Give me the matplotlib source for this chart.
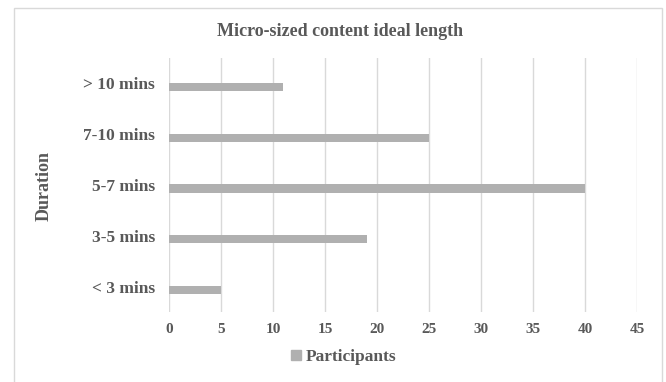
import matplotlib.pyplot as plt
from matplotlib.patches import Rectangle
from matplotlib.lines import Line2D
import numpy as np

categories = ['< 3 mins', '3-5 mins', '5-7 mins', '7-10 mins', '> 10 mins']
participants = [5, 19, 40, 25, 11]
xticks = [0, 5, 10, 15, 20, 25, 30, 35, 40, 45]

txt = '#595959'
bar_col = '#b0b0b0'
plt.rcParams['font.family'] = ['Liberation Serif', 'DejaVu Serif']
plt.rcParams['font.weight'] = 'bold'

fig = plt.figure(figsize=(6.66, 3.82), dpi=100)
ax = fig.add_axes([169/666, 1 - 312/382, (637 - 169)/666, (312 - 58)/382])

pos = np.arange(len(categories))
ax.barh(pos - 0.07, participants, height=0.16, color=bar_col)

ax.set_xlim(0, 45)
ax.set_ylim(-0.5, len(categories) - 0.5)
ax.set_xticks(xticks)
ax.set_yticks(pos)
ax.set_yticklabels(categories)
ax.tick_params(length=0, colors=txt)
ax.tick_params(axis='x', pad=8, labelsize=11)
ax.tick_params(axis='y', pad=10, labelsize=12.5)
for lab in ax.get_xticklabels() + ax.get_yticklabels():
    lab.set_fontweight('bold')
ax.grid(axis='x', color='#d9d9d9', linewidth=1)
ax.set_axisbelow(True)
for s in ax.spines.values():
    s.set_visible(False)

fig.text(44/666, 1 - 186/382, 'Duration', rotation=90, ha='center', va='center',
         color=txt, fontsize=13, fontweight='bold')
fig.text(340/666, 1 - 31/382, 'Micro-sized content ideal length', ha='center', va='center',
         color=txt, fontsize=13, fontweight='bold')

handle = Line2D([], [], marker='s', linestyle='none', color=bar_col, markersize=7)
fig.legend([handle], ['Participants'], loc='center', bbox_to_anchor=(342/666, 1 - 357/382),
           frameon=False, handletextpad=0.05, handlelength=1.0, labelcolor=txt,
           prop={'size': 12.5, 'weight': 'bold'})

fig.patches.append(Rectangle((14/666, -0.1), (662 - 14)/666, 1.1 - 8/382, fill=False,
                             edgecolor='#d9d9d9', linewidth=1, transform=fig.transFigure))

fig.savefig('out.png', dpi=100, facecolor='white')
